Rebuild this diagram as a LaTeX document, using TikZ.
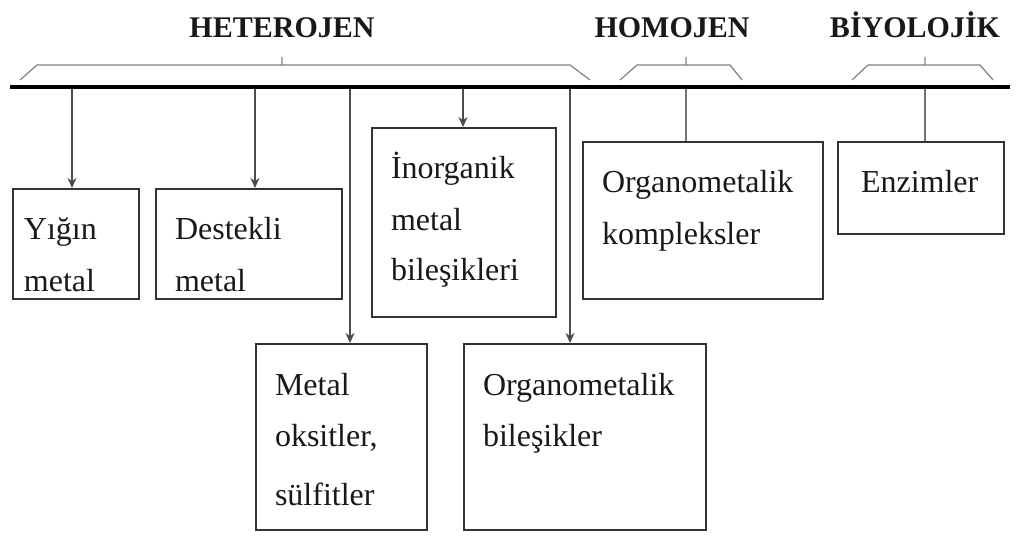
\documentclass[tikz,border=0pt]{standalone}
\usepackage{fontspec}
\setmainfont{Liberation Serif}
\usetikzlibrary{arrows.meta, positioning}

\begin{document}
\begin{tikzpicture}[
		x=0.5pt, y=-0.5pt,
		box/.style={draw=black!80, line width=1pt, rectangle, anchor=north west, align=left, inner xsep=9.5pt, inner ysep=0pt, text height=25.5pt, text=black!90, font=\fontsize{16}{25.5}\selectfont},
		head/.style={anchor=base, text=black!90, font=\fontsize{15}{18}\selectfont\bfseries},
		arrow/.style={-{Stealth[length=5pt, width=4.5pt]}, black!70, line width=0.8pt},
		link/.style={black!55, line width=0.8pt},
		brace/.style={black!50, line width=0.6pt},
		bar/.style={black, line width=2pt}
		]
		\useasboundingbox (0,0) rectangle (1016,545);
		
		% Nodes
		\node[head] (het) at (282,38) {HETEROJEN};
		\node[head] (homo) at (672,38) {HOMOJEN};
		\node[head] (biyo) at (915,38) {BİYOLOJİK};
		
		\node[box, text width=52pt, inner xsep=5.5pt, text depth=29.5pt] (yigin) at (12,188) {Yığın\\metal};
		
		\node[box, text width=74pt, text depth=29.5pt] (destekli) at (155,188) {Destekli\\metal};
		
		\node[box, text width=73pt, text depth=69pt] (inorg) at (371,127) {İnorganik\\metal\\bileşikleri};
		
		\node[box, text width=66.5pt, text depth=67.5pt] (oksit) at (255,343) {Metal\\oksitler,\\[4pt]sülfitler};
		
		\node[box, text width=102pt, text depth=67.5pt] (orgbil) at (463,343) {Organometalik\\bileşikler};
		
		\node[box, text width=101pt, text depth=53pt] (orgkomp) at (582,141) {Organometalik\\kompleksler};
		
		\node[box, text width=60pt, inner xsep=11.5pt, text depth=20.5pt] (enzim) at (837,141) {Enzimler};
		
		% Braces
		\draw[brace] (20,80) -- (37,65) -- (570,65) -- (590,80) (282,65) -- (282,57);
		\draw[brace] (620,80) -- (637,65) -- (730,65) -- (742,80) (686,65) -- (686,57);
		\draw[brace] (852,80) -- (868,65) -- (980,65) -- (993,80) (925,65) -- (925,57);
		
		% Bar
		\coordinate (bl) at (10,87);
		\coordinate (br) at (1010,87);
		\coordinate (a1) at (72,87);
		\coordinate (a2) at (255,87);
		\coordinate (a3) at (350,87);
		\coordinate (a4) at (463,87);
		\coordinate (a5) at (570,87);
		\coordinate (a6) at (686,87);
		\coordinate (a7) at (925,87);
		
		% Arrows
		\draw[arrow] (a1) -- (a1 |- yigin.north);
		\draw[arrow] (a2) -- (a2 |- destekli.north);
		\draw[arrow] (a3) -- (a3 |- oksit.north);
		\draw[arrow] (a4) -- (a4 |- inorg.north);
		\draw[arrow] (a5) -- (a5 |- orgbil.north);
		\draw[link] (a6) -- (a6 |- orgkomp.north);
		\draw[link] (a7) -- (a7 |- enzim.north);
		
		\draw[bar] (bl) -- (br);
		
	\end{tikzpicture}
\end{document}
